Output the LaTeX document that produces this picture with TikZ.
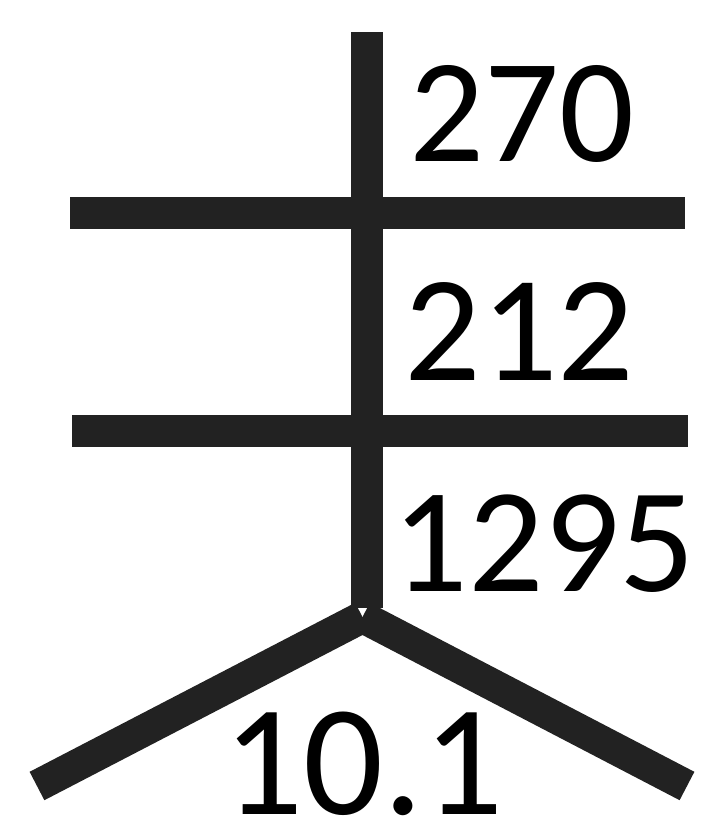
\documentclass[tikz,border=0pt]{standalone}
\usepackage{fontspec}
\setmainfont{Carlito}
\definecolor{barcol}{HTML}{222222}
\tikzset{
  bar/.style={draw=barcol, line width=32pt, line cap=butt},
  num/.style={inner sep=0pt, anchor=base, text=black}
}
\begin{document}
\begin{tikzpicture}[x=1pt, y=-1pt]
  \useasboundingbox (0,0) rectangle (701,823);
  % coordinates
  \coordinate (vtop) at (367,32);
  \coordinate (vbot) at (367,608);
  \coordinate (h1l) at (70,213);
  \coordinate (h1r) at (685,213);
  \coordinate (h2l) at (72,431);
  \coordinate (h2r) at (688,431);
  \coordinate (apex) at (362.5,617);
  \coordinate (lend) at (37,786);
  \coordinate (rend) at (687,786);
  % bars
  \draw[bar] (vtop) -- (vbot);
  \draw[bar] (h1l) -- (h1r);
  \draw[bar] (h2l) -- (h2r);
  \draw[bar] (apex) -- (lend);
  \draw[bar] (apex) -- (rend);
  % numbers
  \node[num, font=\fontsize{148}{156}\selectfont] (n270) at (522,161) {270};
  \node[num, font=\fontsize{151}{160}\selectfont] (n212) at (519.5,380) {212};
  \node[num, font=\fontsize{149}{156}\selectfont] (n1295) at (544,591) {1295};
  \node[num, font=\fontsize{158}{166}\selectfont] (n101) at (363.5,814) {10.1};
\end{tikzpicture}
\end{document}
